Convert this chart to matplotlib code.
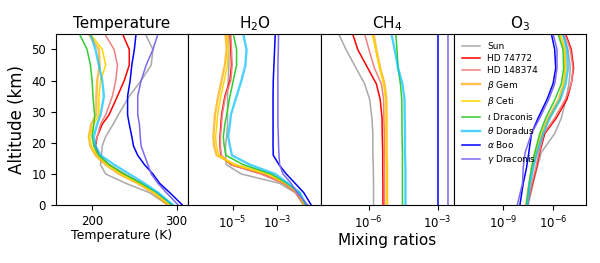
import numpy as np
import matplotlib
matplotlib.use('Agg')
import matplotlib.pyplot as plt
from matplotlib.ticker import NullLocator

stars = ['Sun', 'HD 74772', 'HD 148374', r'$\beta$ Gem', r'$\beta$ Ceti',
         r'$\iota$ Draconis', r'$\theta$ Doradus', r'$\alpha$ Boo', r'$\gamma$ Draconis']
colors = ['darkgray', 'red', 'lightcoral', 'orange', 'gold',
          'limegreen', 'deepskyblue', 'blue', 'mediumslateblue']

# altitude grids (km)
alt_low = [0, 4, 7, 10, 13, 16, 19, 22, 26, 29, 35, 40, 45, 50, 55]
alt_chem = [0, 7, 12, 17, 23, 28, 34, 39, 44, 50, 55]

# temperature (K) on alt_low
temp = [
    [290, 268, 240, 216, 210, 211, 212, 216, 225, 231, 244, 258, 270, 272, 263],
    [294, 276, 258, 238, 220, 208, 204, 206, 212, 220, 230, 238, 244, 244, 236],
    [293, 275, 256, 236, 218, 206, 203, 206, 210, 216, 224, 228, 230, 226, 215],
    [290, 272, 254, 232, 216, 204, 198, 196, 199, 205, 205, 206, 209, 208, 196],
    [292, 274, 256, 234, 218, 206, 199, 197, 202, 208, 208, 210, 216, 212, 198],
    [295, 277, 258, 238, 220, 208, 202, 200, 202, 203, 201, 200, 198, 194, 185],
    [296, 278, 262, 244, 226, 210, 204, 202, 206, 210, 214, 212, 208, 204, 198],
    [307, 292, 280, 272, 262, 254, 249, 247, 244, 242, 242, 245, 247, 250, 252],
    [302, 288, 278, 270, 266, 262, 258, 257, 256, 254, 254, 258, 264, 272, 278],
]

# log10 H2O mixing ratio on alt_low
h2o_log = [
    [-1.79, -2.17, -2.87, -4.60, -5.29, -5.32, -5.32, -5.27, -5.23, -5.23, -5.23, -5.20, -5.17, -5.17, -5.20],
    [-1.75, -2.12, -2.68, -3.67, -5.08, -5.53, -5.57, -5.57, -5.53, -5.50, -5.35, -5.12, -5.05, -5.08, -5.12],
    [-1.76, -2.14, -2.70, -3.70, -5.10, -5.52, -5.55, -5.55, -5.50, -5.47, -5.32, -5.08, -5.02, -5.05, -5.08],
    [-1.75, -2.05, -2.62, -3.40, -4.90, -5.72, -5.84, -5.87, -5.83, -5.80, -5.65, -5.50, -5.35, -5.27, -5.32],
    [-1.72, -2.02, -2.57, -3.43, -4.93, -5.62, -5.74, -5.77, -5.71, -5.68, -5.53, -5.38, -5.23, -5.20, -5.23],
    [-1.70, -1.99, -2.53, -3.25, -4.52, -5.30, -5.38, -5.42, -5.35, -5.27, -5.12, -4.97, -4.82, -4.82, -4.97],
    [-1.67, -1.96, -2.50, -3.07, -4.22, -5.03, -5.12, -5.20, -5.12, -5.08, -4.82, -4.60, -4.42, -4.37, -4.52],
    [-1.44, -1.78, -2.17, -2.57, -2.90, -3.16, -3.17, -3.17, -3.17, -3.17, -3.17, -3.16, -3.13, -3.10, -3.07],
    [-1.60, -2.08, -2.35, -2.72, -2.87, -2.90, -2.92, -2.93, -2.95, -2.95, -2.95, -2.95, -2.95, -2.93, -2.92],
]

# log10 CH4 mixing ratio on alt_chem
ch4_log = [
    [-5.79, -5.79, -5.80, -5.82, -5.82, -5.86, -5.96, -6.18, -6.55, -6.99, -7.31],
    [-5.38, -5.38, -5.39, -5.39, -5.41, -5.42, -5.50, -5.67, -6.04, -6.48, -6.70],
    [-5.31, -5.31, -5.31, -5.32, -5.32, -5.34, -5.35, -5.45, -5.75, -5.99, -6.18],
    [-5.20, -5.20, -5.20, -5.22, -5.22, -5.22, -5.23, -5.31, -5.50, -5.67, -5.79],
    [-5.23, -5.23, -5.23, -5.25, -5.25, -5.25, -5.26, -5.35, -5.53, -5.70, -5.85],
    [-4.53, -4.53, -4.53, -4.53, -4.55, -4.55, -4.56, -4.62, -4.72, -4.77, -4.82],
    [-4.40, -4.40, -4.40, -4.42, -4.42, -4.43, -4.44, -4.53, -4.72, -4.87, -5.01],
    [-3.00, -3.00, -3.00, -3.00, -3.00, -3.00, -3.00, -3.00, -3.00, -3.00, -3.00],
    [-2.56, -2.56, -2.56, -2.56, -2.56, -2.56, -2.56, -2.56, -2.56, -2.56, -2.56],
]

# log10 O3 mixing ratio on alt_chem
o3_log = [
    [-7.50, -7.20, -6.96, -6.70, -5.90, -5.50, -5.22, -5.04, -4.96, -5.10, -5.40],
    [-7.56, -7.24, -7.00, -6.80, -6.50, -5.80, -5.16, -4.90, -4.76, -4.90, -5.24],
    [-7.56, -7.28, -7.04, -6.84, -6.56, -5.90, -5.26, -4.90, -4.80, -4.96, -5.30],
    [-7.64, -7.44, -7.24, -7.00, -6.70, -6.30, -5.66, -5.36, -5.24, -5.30, -5.60],
    [-7.56, -7.44, -7.30, -7.10, -6.70, -6.20, -5.56, -5.36, -5.28, -5.32, -5.56],
    [-7.60, -7.44, -7.30, -7.10, -6.80, -6.44, -5.88, -5.50, -5.36, -5.40, -5.70],
    [-7.56, -7.40, -7.20, -6.96, -6.60, -6.20, -5.56, -5.24, -5.10, -5.16, -5.40],
    [-8.00, -7.80, -7.60, -7.46, -7.30, -6.90, -6.36, -6.00, -5.84, -5.90, -6.10],
    [-8.16, -7.84, -7.80, -7.68, -7.30, -6.80, -6.26, -5.90, -5.76, -5.76, -6.00],
]

widths = [1.1, 1.1, 1.1, 1.7, 1.1, 1.1, 1.7, 1.1, 1.1]
alphas = [1, 1, 1, 0.7, 1, 1, 0.7, 1, 1]

fig, axes = plt.subplots(1, 4, figsize=(6, 2.63), dpi=100, sharey=True)
fig.subplots_adjust(left=0.093, right=0.977, bottom=0.22, top=0.871, wspace=0)
ax_t, ax_w, ax_c, ax_o = axes

for i in range(len(stars)):
    kw = dict(color=colors[i], lw=widths[i], alpha=alphas[i])
    ax_t.plot(temp[i], alt_low, label=stars[i], **kw)
    ax_w.plot(10.0 ** np.array(h2o_log[i]), alt_low, **kw)
    ax_c.plot(10.0 ** np.array(ch4_log[i]), alt_chem, **kw)
    ax_o.plot(10.0 ** np.array(o3_log[i]), alt_chem, **kw)

ax_t.set_xlim(157, 314)
ax_t.set_xticks([200, 300])
ax_t.set_ylim(0, 55)
ax_t.set_yticks([0, 10, 20, 30, 40, 50])
ax_t.set_ylabel('Altitude (km)', fontsize=12)
ax_t.set_xlabel('Temperature (K)', fontsize=9, labelpad=1)
ax_t.set_title('Temperature', fontsize=11, pad=4)

for ax in (ax_w, ax_c, ax_o):
    ax.set_xscale('log')
    ax.xaxis.set_minor_locator(NullLocator())
    ax.tick_params(axis='y', left=False)

ax_w.set_xlim(1e-7, 1e-1)
ax_w.set_xticks([1e-5, 1e-3])
ax_w.set_title('H$_2$O', fontsize=11, pad=4)

ax_c.set_xlim(10 ** -8.08, 10 ** -2.3)
ax_c.set_xticks([1e-6, 1e-3])
ax_c.set_title('CH$_4$', fontsize=11, pad=4)
ax_c.set_xlabel('Mixing ratios', fontsize=11, labelpad=1)

ax_o.set_xlim(1e-12, 1e-4)
ax_o.set_xticks([1e-9, 1e-6])
ax_o.set_title('O$_3$', fontsize=11, pad=4)

for ax in axes:
    ax.tick_params(labelsize=8.5)
    ax.xaxis.set_minor_locator(NullLocator())

handles, labels = ax_t.get_legend_handles_labels()
ax_o.legend(handles, labels, loc='upper left', fontsize=6.5, frameon=False,
            labelspacing=0.35, handlelength=2)

plt.savefig('out.png', dpi=100)
